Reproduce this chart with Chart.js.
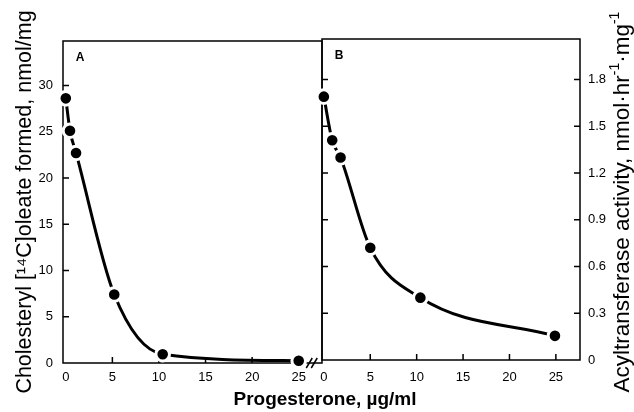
<!DOCTYPE html>
<html lang="en">
<head>
<meta charset="UTF-8">
<title>Progesterone inhibition of cholesterol esterification</title>
<script src="https://cdn.jsdelivr.net/npm/chart.js"></script>
<style>
    body { margin: 0; background: #fff; }
    .wrap { position: relative; width: 634px; height: 412px; background: #fff; }
    .wrap canvas { position: absolute; left: 0; top: 0; }
</style>
</head>
<body>
<div class="wrap">
    <canvas id="chartA" width="634" height="412"></canvas>
    <canvas id="chartB" width="634" height="412"></canvas>
</div>
<script>
// progesterone, ug/ml
const doseA = [0, 0.45, 1.1, 5.2, 10.4, 25];
const oleateA = [28.6, 25.1, 22.7, 7.4, 0.95, 0.25];      // nmol/mg
const doseB = [0, 0.9, 1.8, 5.0, 10.4, 24.9];
const activityB = [1.69, 1.41, 1.30, 0.72, 0.40, 0.155];  // nmol/hr/mg
const xTicks = [0, 5, 10, 15, 20, 25];
const yTicksA = [0, 5, 10, 15, 20, 25, 30];
const yTicksB = [0, 0.3, 0.6, 0.9, 1.2, 1.5, 1.8];

const FONT = "'Liberation Sans', Arial, sans-serif";
Chart.defaults.font.family = FONT;
Chart.defaults.color = '#000';

function fixTicks(values) {
    return scale => { scale.ticks = values.map(v => ({ value: v })); };
}

const lineStyle = {
    borderColor: '#000',
    borderWidth: 3,
    backgroundColor: '#000',
    pointRadius: 6.8,
    pointBorderWidth: 3,
    pointBorderColor: '#fff',
    pointBackgroundColor: '#000',
    cubicInterpolationMode: 'monotone',
    fill: false,
    clip: false
};

const noGrid = { display: false, drawTicks: false };

// box round the panel, short ticks pointing inward, panel letter
const framePlugin = {
    id: 'frame',
    beforeDatasetsDraw(chart, args, opts) {
        const { ctx, chartArea: a } = chart;
        const xs = chart.scales.x, ys = chart.scales.y;
        const len = 6;
        ctx.save();
        ctx.strokeStyle = '#000';
        ctx.lineWidth = 1.5;
        ctx.strokeRect(a.left, a.top, a.right - a.left, a.bottom - a.top);
        ctx.beginPath();
        xs.ticks.forEach(t => {
            if (t.value === 0) return;
            const px = xs.getPixelForValue(t.value);
            ctx.moveTo(px, a.bottom);
            ctx.lineTo(px, a.bottom - len);
        });
        ys.ticks.forEach(t => {
            if (t.value === 0) return;
            const py = ys.getPixelForValue(t.value);
            opts.sides.forEach(side => {
                if (side === 'left') { ctx.moveTo(a.left, py); ctx.lineTo(a.left + len, py); }
                else { ctx.moveTo(a.right, py); ctx.lineTo(a.right - len, py); }
            });
        });
        if (opts.breakAt !== undefined) {
            const bx = xs.getPixelForValue(opts.breakAt);
            [-2.5, 2.5].forEach(dx => {
                ctx.moveTo(bx + dx - 3, a.bottom + 5);
                ctx.lineTo(bx + dx + 3, a.bottom - 5);
            });
        }
        ctx.stroke();
        ctx.font = 'bold 12px ' + FONT;
        ctx.fillStyle = '#000';
        ctx.textAlign = 'center';
        ctx.textBaseline = 'middle';
        ctx.fillText(opts.letter, a.left + 17, a.top + 17);
        ctx.restore();
    }
};

// shared x title and the right axis title (reads bottom to top, with superscripts)
const titlesPlugin = {
    id: 'titles',
    afterDraw(chart) {
        const ctx = chart.ctx;
        ctx.save();
        ctx.fillStyle = '#000';
        ctx.textBaseline = 'alphabetic';
        ctx.font = 'bold 19px ' + FONT;
        ctx.textAlign = 'center';
        ctx.fillText('Progesterone, µg/ml', 325, 405);

        const parts = [
            ['Acyltransferase activity, nmol·hr', false],
            ['-1', true],
            ['·mg', false],
            ['-1', true]
        ];
        const big = '22.5px ' + FONT, small = '14px ' + FONT;
        let total = 0;
        parts.forEach(([s, sup]) => { ctx.font = sup ? small : big; total += ctx.measureText(s).width; });
        ctx.translate(629, 202);
        ctx.rotate(-Math.PI / 2);
        ctx.textAlign = 'left';
        let x = -total / 2;
        parts.forEach(([s, sup]) => {
            ctx.font = sup ? small : big;
            ctx.fillText(s, x, sup ? -10 : 0);
            x += ctx.measureText(s).width;
        });
        ctx.restore();
    }
};

new Chart(document.getElementById('chartA'), {
    type: 'line',
    data: { datasets: [{ data: doseA.map((x, i) => ({ x, y: oleateA[i] })), ...lineStyle }] },
    options: {
        responsive: false,
        animation: false,
        layout: { padding: { left: 0, top: 41, right: 312, bottom: 0 } },
        plugins: {
            legend: { display: false },
            tooltip: { enabled: false },
            frame: { letter: 'A', sides: ['left'], breakAt: 26.4 }
        },
        scales: {
            x: {
                type: 'linear', min: -0.3, max: 27.5,
                grid: noGrid, border: { display: false },
                afterBuildTicks: fixTicks(xTicks),
                afterFit: s => { s.height = 49; },
                ticks: { padding: 7, font: { size: 13 }, maxRotation: 0, autoSkip: false }
            },
            y: {
                min: 0, max: 34.8,
                grid: noGrid, border: { display: false },
                afterBuildTicks: fixTicks(yTicksA),
                afterFit: s => { s.width = 63; },
                ticks: { padding: 10, font: { size: 13 } },
                title: {
                    display: true,
                    text: 'Cholesteryl [¹⁴C]oleate formed, nmol/mg',
                    font: { size: 21.5 },
                    padding: { top: 12, bottom: 0 }
                }
            }
        }
    },
    plugins: [framePlugin]
});

new Chart(document.getElementById('chartB'), {
    type: 'line',
    data: { datasets: [{ data: doseB.map((x, i) => ({ x, y: activityB[i] })), ...lineStyle }] },
    options: {
        responsive: false,
        animation: false,
        layout: { padding: { left: 322, top: 39, right: 0, bottom: 0 } },
        plugins: {
            legend: { display: false },
            tooltip: { enabled: false },
            frame: { letter: 'B', sides: ['left', 'right'] }
        },
        scales: {
            x: {
                type: 'linear', min: -0.2, max: 27.6,
                grid: noGrid, border: { display: false },
                afterBuildTicks: fixTicks(xTicks),
                afterFit: s => { s.height = 52; },
                ticks: { padding: 10, font: { size: 13 }, maxRotation: 0, autoSkip: false }
            },
            y: {
                position: 'right',
                min: 0, max: 2.06,
                grid: noGrid, border: { display: false },
                afterBuildTicks: fixTicks(yTicksB),
                afterFit: s => { s.width = 54; },
                ticks: {
                    padding: 8, font: { size: 13 },
                    callback: v => v === 0 ? '0' : v.toFixed(1)
                }
            }
        }
    },
    plugins: [framePlugin, titlesPlugin]
});
</script>
</body>
</html>
